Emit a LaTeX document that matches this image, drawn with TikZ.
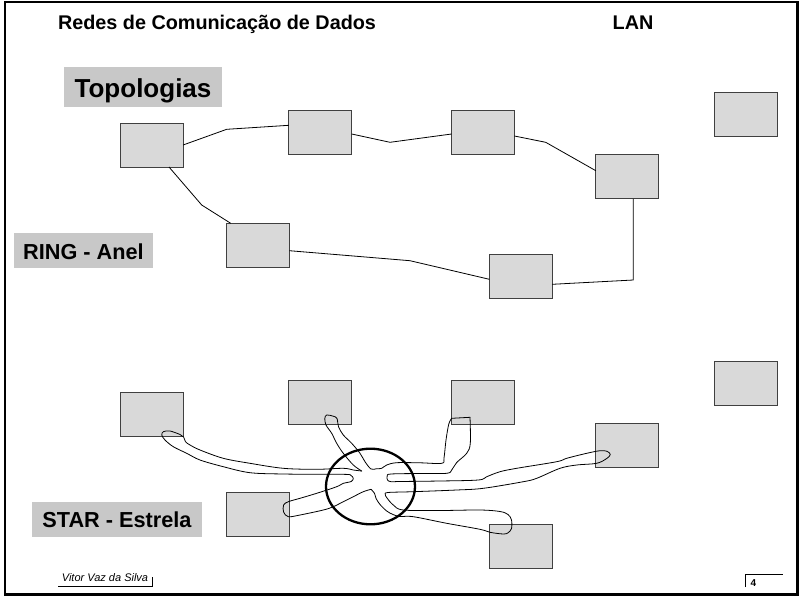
\documentclass[tikz,border=0pt]{standalone}
\usepackage{fontspec}
\setmainfont{Liberation Sans}
\definecolor{boxgray}{RGB}{217,217,217}
\definecolor{labelgray}{RGB}{200,200,200}
\begin{document}
\begin{tikzpicture}[x=1pt,y=-1pt,
  box/.style={draw=black!75, fill=boxgray, line width=0.9pt, minimum width=62.8pt, minimum height=44pt, inner sep=0pt, outer sep=0pt},
  toplabel/.style={fill=labelgray, inner sep=0pt, outer sep=0pt, text depth=0pt},
  wire/.style={line width=0.8pt},
  cable/.style={line width=0.8pt, line join=round, line cap=round},
  bracket/.style={line width=0.9pt}]
\useasboundingbox (0,0) rectangle (803,597);
% frame
\draw[line width=2.5pt] (5,2) rectangle (797.3,594.7);
% header
\node[anchor=base, font=\bfseries\fontsize{19.8}{24}\selectfont] (title) at (217,29.3) {Redes de Comunicação de Dados};
\node[anchor=base, font=\bfseries\fontsize{19.8}{24}\selectfont] (lan) at (633,29.3) {LAN};
% labels
\node[toplabel, minimum width=158pt, minimum height=40pt, text height=20.6pt, font=\bfseries\fontsize{26}{30}\selectfont] (topo) at (143,87) {Topologias};
\node[toplabel, minimum width=139pt, minimum height=35pt, text height=17.6pt, font=\bfseries\fontsize{21.7}{26}\selectfont] (ring) at (83.5,250.5) {RING - Anel};
\node[toplabel, minimum width=170pt, minimum height=35pt, text height=16.4pt, font=\bfseries\fontsize{21.7}{26}\selectfont] (star) at (117,519.5) {STAR - Estrela};
% ring boxes
\node[box] (b1) at (151.7,145) {};
\node[box] (b2) at (320.3,132.7) {};
\node[box] (b3) at (483,132.7) {};
\node[box] (b4) at (627.2,176.8) {};
\node[box] (b5) at (746,114) {};
\node[box] (b6) at (520.8,276.8) {};
\node[box] (b7) at (258,245.3) {};
% ring kinks
\coordinate (k12) at (226.7,129.3);
\coordinate (k23) at (390,142.3);
\coordinate (k34) at (545.7,142.3);
\coordinate (k46) at (633.3,280);
\coordinate (k67) at (410,260.7);
\coordinate (k17) at (201.7,205);
\draw[wire] (b1.east) -- (k12) -- ([yshift=7.4pt]b2.west);
\draw[wire] ([yshift=-1.3pt]b2.east) -- (k23) -- ([yshift=-1.3pt]b3.west);
\draw[wire] ([yshift=-3.3pt]b3.east) -- (k34) -- ([yshift=6.1pt]b4.west);
\draw[wire] ([xshift=6.1pt]b4.south) -- (k46) -- ([yshift=-7.5pt]b6.east);
\draw[wire] ([yshift=-2.5pt]b6.west) -- (k67) -- ([yshift=-5.4pt]b7.east);
\draw[wire] ([xshift=17.3pt]b1.south) -- (k17) -- ([xshift=-27.3pt]b7.north);
% star boxes
\node[box] (s1) at (151.7,414.3) {};
\node[box] (s2) at (320.3,402) {};
\node[box] (s3) at (483,402) {};
\node[box] (s4) at (627.2,445.7) {};
\node[box] (s5) at (520.8,546) {};
\node[box] (s6) at (258,514.2) {};
\node[box] (s7) at (746,383) {};
% star cables (freehand outline)
\draw[cable] plot[smooth, tension=0.55] coordinates {(361.7,471) (353.3,465) (343.3,453.3) (336.7,443.3) (331.7,433.3) (326,425) (324.8,418.5) (326.7,415) (333.3,416.2) (337,418.5) (338.5,426.7) (343.3,435) (351.7,443.3) (360,453.3) (365,461.7) (371,469) (376.7,468.7) (381.7,468.3) (386.7,465) (396.7,462.7) (420,462.8) (441.7,463.3) (444,458) (446,440) (448.8,424) (451.7,418.3)};
\draw[cable] (451.7,418.3) -- (470,417.3);
\draw[cable] plot[smooth, tension=0.55] coordinates {(470,417.3) (470.3,443.3) (466.7,453.3) (456.7,462.5) (451.7,470) (446.7,473.3) (420,473.5) (391,474) (387.2,476) (387.5,480) (391,481.7) (400,481.5) (440,481) (478.3,480) (486.7,476.7) (500,471.7) (516.7,468.3) (556.7,461.7) (566.7,458.3) (586.7,453.3) (600,450.7) (607,451.3) (610.3,454.5) (606.7,458.5) (596.7,463.3) (576.7,465) (560,468.3) (536.7,478.3) (523.3,481.7) (483.3,488.3) (456.7,490) (413,491.7) (388,492.5) (385.3,494.5) (387,498) (393.3,505) (403.3,510) (440,510.5) (480,510) (500,511.5) (508,514.5) (511.5,520) (511.5,528.5) (508,532.8) (503.3,534) (490,532.3) (480,529.3) (446.7,523.3) (413.3,516.7) (400,516.5) (393,514.5) (386.7,511) (380,504.5) (376,498.3) (374.5,493.3) (371,489.3)};
\draw[cable] plot[smooth, tension=0.55] coordinates {(371,489.3) (363.3,491.7) (353.3,496.7) (343.3,501.7) (333.3,506.7) (323.3,510) (300,515) (288.3,516.7) (283.6,512) (283.6,505) (288.3,501.7) (300,498.3) (316.7,493.3) (336.7,486.7) (343.3,483.3) (351.2,481.5) (353.3,478.3) (351,475.5) (346.7,474.4) (320,474.3) (283.3,474) (250,472.7) (223.3,466.7) (200,460) (186.7,453.3) (173.3,446.7) (165,440) (161.8,435) (163.5,431.6) (170,431) (180,434.5) (183.6,437) (185.5,441.7) (190,445) (200,450) (223.3,458.3) (250,463.3) (283.3,468.3) (316.7,469.3) (343.3,468.3) (353.3,470) (361.7,471)};
% hub
\draw[line width=2.3pt] (370.5,486.5) ellipse (44.5 and 37.8);
% footer
\node[anchor=base west, inner sep=0pt, font=\itshape\fontsize{11}{13}\selectfont] (author) at (61.7,581) {Vitor Vaz da Silva};
\coordinate (ab1) at (58,586.3);
\coordinate (ab2) at (152,586.3);
\coordinate (ab3) at (152,576.5);
\draw[bracket] (ab1) -- (ab2) -- (ab3);
\node[anchor=base west, inner sep=0pt, font=\bfseries\fontsize{10}{12}\selectfont] (page) at (750.5,586.5) {4};
\coordinate (pb1) at (745.7,587);
\coordinate (pb2) at (745.7,574.3);
\coordinate (pb3) at (783.3,574.3);
\draw[bracket] (pb1) -- (pb2) -- (pb3);
\end{tikzpicture}
\end{document}
